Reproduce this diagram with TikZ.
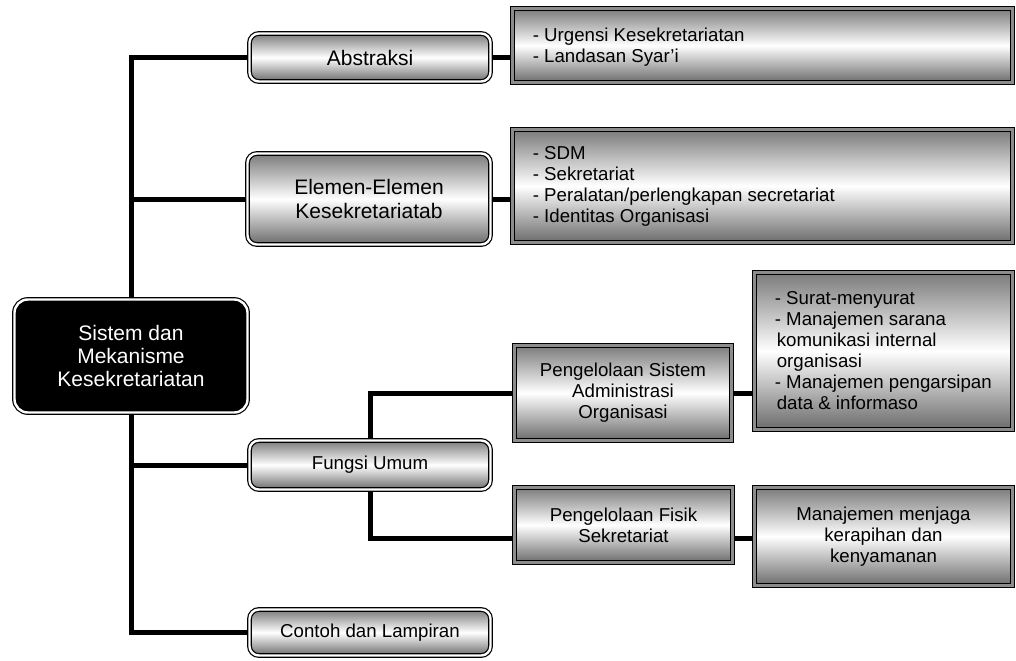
\documentclass[tikz,border=0pt]{standalone}
\usepackage{fontspec}
\setmainfont{Liberation Sans}
\usetikzlibrary{backgrounds}

\tikzset{
  x=0.75pt, y=-0.75pt,
  box/.style={draw=black, line width=0.9pt, double distance=1.8pt,
    top color=black!52, bottom color=black!58, middle color=white,
    inner sep=0pt, align=center, text=black},
  roundbox/.style={box, double=white, rounded corners=7pt},
  rectbox/.style={box, double=black!45},
  rootbox/.style={draw=black, line width=0.9pt, double=white, double distance=1.8pt,
    fill=black, rounded corners=10pt, text=white, align=center, inner sep=0pt},
  bigtext/.style={font=\fontsize{15.75}{17.5}\selectfont},
  midtext/.style={font=\fontsize{14}{15.75}\selectfont},
  dtext/.style={midtext, align=left, inner sep=0pt, anchor=west, text=black},
  link/.style={line width=3.75pt, line join=miter, draw=black},
}

\begin{document}
\begin{tikzpicture}
\useasboundingbox (0,0) rectangle (1016,660);

% root
\node[rootbox, bigtext, minimum width=174.75pt, minimum height=84.75pt] (root) at (131,356)
  {Sistem dan\\Mekanisme\\Kesekretariatan};

% first level
\node[roundbox, bigtext, minimum width=180.75pt, minimum height=36pt] (abs) at (370,57.5) {Abstraksi};
\node[roundbox, bigtext, minimum width=182.25pt, minimum height=68.25pt] (elem) at (369,199)
  {Elemen-Elemen\\Kesekretariatab};
\node[roundbox, midtext, minimum width=180.75pt, minimum height=36.75pt] (fungsi) at (370,465) {Fungsi Umum};
\node[roundbox, midtext, minimum width=180.75pt, minimum height=34.5pt] (contoh) at (370,632.5) {Contoh dan Lampiran};

% detail boxes
\node[rectbox, minimum width=375pt, minimum height=55.5pt] (absd) at (762.5,45.5) {};
\node[dtext] (absdt) at ([xshift=15.5pt,yshift=-1.5pt]absd.west)
  {- Urgensi Kesekretariatan\\- Landasan Syar'i};

\node[rectbox, minimum width=375pt, minimum height=84.75pt] (elemd) at (762.5,186) {};
\node[dtext] (elemdt) at ([xshift=15.5pt]elemd.west)
  {- SDM\\- Sekretariat\\- Peralatan/perlengkapan secretariat\\- Identitas Organisasi};

% second level under Fungsi Umum
\node[rectbox, midtext, minimum width=162.75pt, minimum height=71.25pt] (sis) at (623,393)
  {Pengelolaan Sistem\\Administrasi\\Organisasi};
\node[rectbox, minimum width=193.5pt, minimum height=117.75pt] (sisd) at (883.5,351) {};
\node[dtext] (sisdt) at ([xshift=15.5pt]sisd.west)
  {- Surat-menyurat\\- Manajemen sarana\\\hspace*{1.5pt}komunikasi internal\\\hspace*{1.5pt}organisasi\\- Manajemen pengarsipan\\\hspace*{1.5pt}data \& informaso};

\node[rectbox, midtext, minimum width=163.5pt, minimum height=56.25pt] (fis) at (623.5,525)
  {Pengelolaan Fisik\\Sekretariat};
\node[rectbox, midtext, minimum width=193.5pt, minimum height=73.5pt] (fisd) at (883.5,536.5)
  {Manajemen menjaga\\kerapihan dan\\kenyamanan};

\coordinate (fisin) at ([yshift=-9.75pt]fis.west);

% connectors
\begin{scope}[on background layer]
  \draw[link] (abs.west) -| (root.center) |- (contoh.west);
  \draw[link] (root.center |- elem.west) -- (elem.west);
  \draw[link] (root.center |- fungsi.west) -- (fungsi.west);
  \draw[link] (abs.east) -- (abs.east -| absd.west);
  \draw[link] (elem.east) -- (elem.east -| elemd.west);
  \draw[link] (fungsi.north) |- (sis.west);
  \draw[link] (fungsi.south) |- (fisin);
  \draw[link] (sis.east) -- (sis.east -| sisd.west);
  \draw[link] (fis.east |- fisin) -- (fisd.west |- fisin);
\end{scope}
\end{tikzpicture}
\end{document}
